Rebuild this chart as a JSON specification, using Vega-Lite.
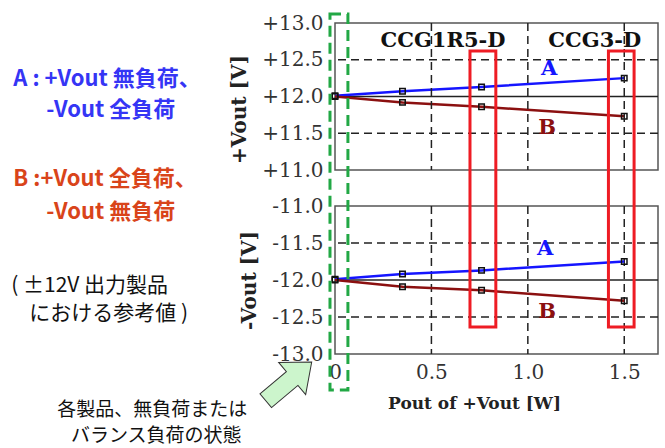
{
  "$schema": "https://vega.github.io/schema/vega-lite/v6.json",
  "padding": {"left": 10, "top": 11, "right": 5, "bottom": 0},
  "background": "white",
  "config": {"view": {"stroke": "#555", "strokeWidth": 1.5}, "axis": {"labelOverlap": false, "labelFlush": false, "labelBound": false}},
  "bounds": "flush",
  "spacing": 36,
  "datasets": {
    "vgrid": [{"x": 0.5}, {"x": 1.0}, {"x": 1.5}],
    "topHgrid": [{"y": 11.5}, {"y": 12.5}],
    "topZero": [{"y": 12.0}],
    "botHgrid": [{"y": -11.5}, {"y": -12.5}],
    "botZero": [{"y": -12.0}],
    "topLines": [
      {"s": "A", "x": 0, "y": 12.01}, {"s": "A", "x": 0.35, "y": 12.07}, {"s": "A", "x": 0.76, "y": 12.13}, {"s": "A", "x": 1.5, "y": 12.25},
      {"s": "B", "x": 0, "y": 12.0}, {"s": "B", "x": 0.35, "y": 11.92}, {"s": "B", "x": 0.76, "y": 11.86}, {"s": "B", "x": 1.5, "y": 11.73}
    ],
    "botLines": [
      {"s": "A", "x": 0, "y": -11.99}, {"s": "A", "x": 0.35, "y": -11.92}, {"s": "A", "x": 0.76, "y": -11.87}, {"s": "A", "x": 1.5, "y": -11.75},
      {"s": "B", "x": 0, "y": -12.0}, {"s": "B", "x": 0.35, "y": -12.09}, {"s": "B", "x": 0.76, "y": -12.14}, {"s": "B", "x": 1.5, "y": -12.28}
    ],
    "topLabels": [{"s": "A", "x": 1.11, "y": 12.38, "t": "A"}, {"s": "B", "x": 1.10, "y": 11.57, "t": "B"}],
    "botLabels": [{"s": "A", "x": 1.09, "y": -11.58, "t": "A"}, {"s": "B", "x": 1.10, "y": -12.43, "t": "B"}],
    "ccg": [{"x": 0.56, "y": 12.76, "t": "CCG1R5-D"}, {"x": 1.347, "y": 12.76, "t": "CCG3-D"}],
    "noteA": [{"x": -1.668, "y": 12.243, "t": "A : +Vout 無負荷、"}, {"x": -1.497, "y": 11.81, "t": "-Vout 全負荷"}],
    "noteB": [{"x": -1.668, "y": -10.635, "t": "B :+Vout 全負荷、"}, {"x": -1.497, "y": -11.08, "t": "-Vout 無負荷"}],
    "noteRef": [{"x": -1.679, "y": -12.08, "t": "( ±12V 出力製品"}, {"x": -1.585, "y": -12.46, "t": "における参考値 )"}],
    "noteState": [{"x": -0.948, "y": -13.76, "t": "各製品、無負荷または"}, {"x": -0.927, "y": -14.11, "t": "バランス負荷の状態"}],
    "redBoxes": [{"x": 0.70, "x2": 0.834, "y": -8.905, "y2": -12.635}, {"x": 1.418, "x2": 1.551, "y": -8.905, "y2": -12.635}],
    "greenBox": [{"x": -0.026, "x2": 0.067, "y": -8.405, "y2": -13.486}],
    "arrow": [{"x": -0.24, "y": -13.37}]
  },
  "vconcat": [
    {
      "width": 323,
      "height": 147,
      "encoding": {
        "y": {"field": "y", "type": "quantitative", "scale": {"domain": [11, 13], "nice": false, "zero": false},
          "axis": {"values": [11, 11.5, 12, 12.5, 13], "labelExpr": "'+' + format(datum.value, '.1f')", "title": "+Vout [V]", "grid": false, "ticks": false, "domain": false, "labelFont": "DejaVu Serif", "labelFontSize": 20, "labelColor": "#333", "labelPadding": 12, "labelFlush": false, "labelOverlap": false, "titleFont": "DejaVu Serif", "titleFontSize": 20, "titleFontWeight": "bold", "titleColor": "#222", "titlePadding": 12, "titleY": 86}}
      },
      "layer": [
        {
          "data": {"name": "topHgrid"},
          "mark": {"type": "rule", "color": "#222", "strokeWidth": 1.5, "strokeDash": [8, 5]}
        },
        {
          "data": {"name": "topZero"},
          "mark": {"type": "rule", "color": "#222", "strokeWidth": 1.5}
        },
        {
          "data": {"name": "topLines"},
          "mark": {"type": "line", "strokeWidth": 2.5},
          "encoding": {
            "x": {"field": "x", "type": "quantitative", "scale": {"domain": [0, 1.675], "nice": false, "zero": false}, "axis": null},
            "color": {"field": "s", "type": "nominal", "scale": {"domain": ["A", "B"], "range": ["#1515ff", "#8b1010"]}, "legend": null}
          }
        },
        {
          "data": {"name": "topLines"},
          "mark": {"type": "point", "shape": "square", "filled": false, "color": "#111", "size": 30, "strokeWidth": 1.5, "opacity": 1},
          "encoding": {
            "x": {"field": "x", "type": "quantitative", "scale": {"domain": [0, 1.675], "nice": false, "zero": false}, "axis": null}
          }
        },
        {
          "data": {"name": "topLabels"},
          "mark": {"type": "text", "font": "DejaVu Serif", "fontSize": 21, "fontWeight": "bold", "baseline": "middle", "align": "center"},
          "encoding": {
            "x": {"field": "x", "type": "quantitative", "scale": {"domain": [0, 1.675], "nice": false, "zero": false}, "axis": null},
            "text": {"field": "t"},
            "color": {"field": "s", "type": "nominal", "scale": {"domain": ["A", "B"], "range": ["#1515ff", "#8b1010"]}, "legend": null}
          }
        },
        {
          "data": {"name": "ccg"},
          "mark": {"type": "text", "font": "DejaVu Serif", "fontSize": 21, "fontWeight": "bold", "baseline": "middle", "align": "center", "color": "#111"},
          "encoding": {
            "x": {"field": "x", "type": "quantitative", "scale": {"domain": [0, 1.675], "nice": false, "zero": false}, "axis": null},
            "text": {"field": "t"}
          }
        },
        {
          "data": {"name": "noteA"},
          "mark": {"type": "text", "font": "Noto Sans CJK JP", "fontSize": 22, "fontWeight": "bold", "baseline": "middle", "align": "left", "color": "#3535f5"},
          "encoding": {
            "x": {"field": "x", "type": "quantitative", "scale": {"domain": [0, 1.675], "nice": false, "zero": false}, "axis": null},
            "text": {"field": "t"}
          }
        },
        {
          "data": {"name": "vgrid"},
          "mark": {"type": "rule", "color": "#222", "strokeWidth": 1.5, "strokeDash": [8, 5]},
          "encoding": {
            "x": {"field": "x", "type": "quantitative", "scale": {"domain": [0, 1.675], "nice": false, "zero": false}, "axis": null},
            "y": null
          }
        }
      ]
    },
    {
      "width": 323,
      "height": 148,
      "encoding": {
        "x": {"field": "x", "type": "quantitative", "scale": {"domain": [0, 1.675], "nice": false, "zero": false},
          "axis": {"values": [0, 0.5, 1, 1.5], "labelExpr": "datum.value == 0 ? '0' : format(datum.value, '.1f')", "title": "Pout of +Vout [W]", "grid": false, "ticks": false, "domain": false, "labelFont": "DejaVu Serif", "labelFontSize": 20, "labelColor": "#333", "labelPadding": 8, "labelFlush": false, "labelOverlap": false, "titleFont": "DejaVu Serif", "titleFontSize": 17, "titleFontWeight": "bold", "titleColor": "#222", "titlePadding": 13, "titleX": 139}},
        "y": {"field": "y", "type": "quantitative", "scale": {"domain": [-13, -11], "nice": false, "zero": false},
          "axis": {"values": [-13, -12.5, -12, -11.5, -11], "labelExpr": "'-' + format(abs(datum.value), '.1f')", "title": "-Vout [V]", "grid": false, "ticks": false, "domain": false, "labelFont": "DejaVu Serif", "labelFontSize": 20, "labelColor": "#333", "labelPadding": 12, "labelFlush": false, "labelOverlap": false, "titleFont": "DejaVu Serif", "titleFontSize": 20, "titleFontWeight": "bold", "titleColor": "#222", "titlePadding": 12}}
      },
      "layer": [
        {
          "data": {"name": "vgrid"},
          "mark": {"type": "rule", "color": "#222", "strokeWidth": 1.5, "strokeDash": [8, 5]},
          "encoding": {"y": null}
        },
        {
          "data": {"name": "botHgrid"},
          "mark": {"type": "rule", "color": "#222", "strokeWidth": 1.5, "strokeDash": [8, 5]},
          "encoding": {"x": null}
        },
        {
          "data": {"name": "botZero"},
          "mark": {"type": "rule", "color": "#222", "strokeWidth": 1.5},
          "encoding": {"x": null}
        },
        {
          "data": {"name": "botLines"},
          "mark": {"type": "line", "strokeWidth": 2.5},
          "encoding": {
            "color": {"field": "s", "type": "nominal", "scale": {"domain": ["A", "B"], "range": ["#1515ff", "#8b1010"]}, "legend": null}
          }
        },
        {
          "data": {"name": "botLines"},
          "mark": {"type": "point", "shape": "square", "filled": false, "color": "#111", "size": 30, "strokeWidth": 1.5, "opacity": 1}
        },
        {
          "data": {"name": "botLabels"},
          "mark": {"type": "text", "font": "DejaVu Serif", "fontSize": 21, "fontWeight": "bold", "baseline": "middle", "align": "center"},
          "encoding": {
            "text": {"field": "t"},
            "color": {"field": "s", "type": "nominal", "scale": {"domain": ["A", "B"], "range": ["#1515ff", "#8b1010"]}, "legend": null}
          }
        },
        {
          "data": {"name": "noteB"},
          "mark": {"type": "text", "font": "Noto Sans CJK JP", "fontSize": 22, "fontWeight": "bold", "baseline": "middle", "align": "left", "color": "#d9441a"},
          "encoding": {"text": {"field": "t"}}
        },
        {
          "data": {"name": "noteRef"},
          "mark": {"type": "text", "font": "Noto Sans CJK JP", "fontSize": 21, "baseline": "middle", "align": "left", "color": "#111"},
          "encoding": {"text": {"field": "t"}}
        },
        {
          "data": {"name": "noteState"},
          "mark": {"type": "text", "font": "Noto Sans CJK JP", "fontSize": 19, "baseline": "middle", "align": "center", "color": "#111"},
          "encoding": {"text": {"field": "t"}}
        },
        {
          "data": {"name": "arrow"},
          "mark": {"type": "point", "shape": "M-1,-0.3L0.15,-0.3L0.15,-0.7L1,0L0.15,0.7L0.15,0.3L-1,0.3Z", "size": 3600, "angle": -40, "filled": true, "fill": "#ccf5cc", "stroke": "#333", "strokeWidth": 1, "opacity": 1}
        },
        {
          "data": {"name": "greenBox"},
          "mark": {"type": "rect", "fill": null, "fillOpacity": 0, "stroke": "#22a845", "strokeWidth": 3, "strokeDash": [11, 6]},
          "encoding": {"x2": {"field": "x2"}, "y2": {"field": "y2"}}
        },
        {
          "data": {"name": "redBoxes"},
          "mark": {"type": "rect", "fill": null, "fillOpacity": 0, "stroke": "#ee1c24", "strokeWidth": 3},
          "encoding": {"x2": {"field": "x2"}, "y2": {"field": "y2"}}
        }
      ]
    }
  ]
}
